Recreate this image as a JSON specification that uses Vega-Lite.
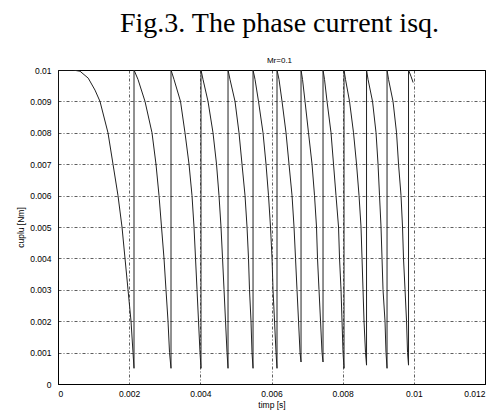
{
  "$schema": "https://vega.github.io/schema/vega-lite/v6.json",
  "autosize": {"type": "none"},
  "width": 427,
  "height": 314,
  "padding": {"left": 58, "top": 70, "right": 19, "bottom": 28},
  "background": "white",
  "title": {
    "text": "Fig.3. The phase current isq.",
    "subtitle": "Mr=0.1",
    "font": "Liberation Serif",
    "fontSize": 28,
    "fontWeight": "normal",
    "color": "#000",
    "dx": 8,
    "anchor": "middle",
    "offset": 1,
    "subtitleFont": "Liberation Sans",
    "subtitleFontSize": 8,
    "subtitleColor": "#000",
    "subtitlePadding": 19
  },
  "config": {
    "view": {"stroke": "#000", "strokeWidth": 1},
    "axis": {
      "labelFont": "Liberation Sans",
      "labelFontSize": 8.5,
      "labelColor": "#000",
      "titleFont": "Liberation Sans",
      "titleFontSize": 8.5,
      "titleFontWeight": "normal",
      "titleColor": "#000",
      "domainColor": "#000",
      "ticks": false,
      "grid": true,
      "gridColor": "#000",
      "gridDash": [3, 2, 1, 2],
      "gridWidth": 0.8,
      "gridOpacity": 0.8
    }
  },
  "data": {
    "values": [
      {"t": 0, "v": 0.0033}, {"t": 0, "v": 0.01}, {"t": 0.00042, "v": 0.01}, {"t": 0.00062, "v": 0.00996}, {"t": 0.00085, "v": 0.00974}, {"t": 0.00104, "v": 0.00936}, {"t": 0.00118, "v": 0.009}, {"t": 0.001405, "v": 0.008}, {"t": 0.001546, "v": 0.007}, {"t": 0.001686, "v": 0.006}, {"t": 0.001799, "v": 0.005}, {"t": 0.001883, "v": 0.004}, {"t": 0.001968, "v": 0.003}, {"t": 0.002052, "v": 0.002}, {"t": 0.002108, "v": 0.001}, {"t": 0.002136, "v": 0.0005},
      {"t": 0.002136, "v": 0.01}, {"t": 0.002248, "v": 0.0097}, {"t": 0.002445, "v": 0.009}, {"t": 0.002642, "v": 0.008}, {"t": 0.002754, "v": 0.007}, {"t": 0.002839, "v": 0.006}, {"t": 0.002909, "v": 0.005}, {"t": 0.002979, "v": 0.004}, {"t": 0.003035, "v": 0.003}, {"t": 0.003092, "v": 0.002}, {"t": 0.003134, "v": 0.001}, {"t": 0.003176, "v": 0.0005},
      {"t": 0.003176, "v": 0.01}, {"t": 0.00326, "v": 0.0097}, {"t": 0.003443, "v": 0.009}, {"t": 0.003569, "v": 0.008}, {"t": 0.003682, "v": 0.007}, {"t": 0.003766, "v": 0.006}, {"t": 0.003822, "v": 0.005}, {"t": 0.003865, "v": 0.004}, {"t": 0.003907, "v": 0.003}, {"t": 0.003949, "v": 0.002}, {"t": 0.003991, "v": 0.001}, {"t": 0.004019, "v": 0.0005},
      {"t": 0.004019, "v": 0.01}, {"t": 0.004075, "v": 0.0097}, {"t": 0.004216, "v": 0.009}, {"t": 0.004356, "v": 0.008}, {"t": 0.004455, "v": 0.007}, {"t": 0.004525, "v": 0.006}, {"t": 0.004581, "v": 0.005}, {"t": 0.004624, "v": 0.004}, {"t": 0.004666, "v": 0.003}, {"t": 0.004708, "v": 0.002}, {"t": 0.00475, "v": 0.001}, {"t": 0.004778, "v": 0.0005},
      {"t": 0.004778, "v": 0.01}, {"t": 0.004834, "v": 0.0097}, {"t": 0.004975, "v": 0.009}, {"t": 0.005087, "v": 0.008}, {"t": 0.005171, "v": 0.007}, {"t": 0.005256, "v": 0.006}, {"t": 0.005312, "v": 0.005}, {"t": 0.005354, "v": 0.004}, {"t": 0.005382, "v": 0.003}, {"t": 0.005424, "v": 0.002}, {"t": 0.005452, "v": 0.001}, {"t": 0.005481, "v": 0.0005},
      {"t": 0.005481, "v": 0.01}, {"t": 0.005537, "v": 0.0097}, {"t": 0.005635, "v": 0.009}, {"t": 0.005762, "v": 0.008}, {"t": 0.005846, "v": 0.007}, {"t": 0.005916, "v": 0.006}, {"t": 0.005972, "v": 0.005}, {"t": 0.006015, "v": 0.004}, {"t": 0.006043, "v": 0.003}, {"t": 0.006085, "v": 0.002}, {"t": 0.006127, "v": 0.001}, {"t": 0.006155, "v": 0.0005},
      {"t": 0.006155, "v": 0.01}, {"t": 0.006211, "v": 0.0097}, {"t": 0.006296, "v": 0.009}, {"t": 0.006408, "v": 0.008}, {"t": 0.006492, "v": 0.007}, {"t": 0.006577, "v": 0.006}, {"t": 0.006633, "v": 0.005}, {"t": 0.006675, "v": 0.004}, {"t": 0.006717, "v": 0.003}, {"t": 0.00676, "v": 0.002}, {"t": 0.006802, "v": 0.001}, {"t": 0.00683, "v": 0.0007},
      {"t": 0.00683, "v": 0.01}, {"t": 0.006872, "v": 0.0097}, {"t": 0.006942, "v": 0.009}, {"t": 0.00704, "v": 0.008}, {"t": 0.007139, "v": 0.007}, {"t": 0.007209, "v": 0.006}, {"t": 0.007265, "v": 0.005}, {"t": 0.007293, "v": 0.004}, {"t": 0.007335, "v": 0.003}, {"t": 0.007378, "v": 0.002}, {"t": 0.00742, "v": 0.001}, {"t": 0.007448, "v": 0.0007},
      {"t": 0.007448, "v": 0.01}, {"t": 0.00749, "v": 0.0097}, {"t": 0.007561, "v": 0.009}, {"t": 0.007673, "v": 0.008}, {"t": 0.007743, "v": 0.007}, {"t": 0.007813, "v": 0.006}, {"t": 0.007884, "v": 0.005}, {"t": 0.007912, "v": 0.004}, {"t": 0.007954, "v": 0.003}, {"t": 0.007982, "v": 0.002}, {"t": 0.00801, "v": 0.001}, {"t": 0.008038, "v": 0.0005},
      {"t": 0.008038, "v": 0.01}, {"t": 0.00808, "v": 0.0097}, {"t": 0.008193, "v": 0.009}, {"t": 0.008305, "v": 0.008}, {"t": 0.00839, "v": 0.007}, {"t": 0.00846, "v": 0.006}, {"t": 0.008516, "v": 0.005}, {"t": 0.008544, "v": 0.004}, {"t": 0.008572, "v": 0.003}, {"t": 0.0086, "v": 0.002}, {"t": 0.008642, "v": 0.001}, {"t": 0.008671, "v": 0.0006},
      {"t": 0.008671, "v": 0.01}, {"t": 0.008713, "v": 0.0097}, {"t": 0.008839, "v": 0.009}, {"t": 0.008938, "v": 0.008}, {"t": 0.008994, "v": 0.007}, {"t": 0.009036, "v": 0.006}, {"t": 0.009078, "v": 0.005}, {"t": 0.009106, "v": 0.004}, {"t": 0.009134, "v": 0.003}, {"t": 0.00919, "v": 0.002}, {"t": 0.009218, "v": 0.001}, {"t": 0.009247, "v": 0.0005},
      {"t": 0.009247, "v": 0.01}, {"t": 0.009289, "v": 0.0097}, {"t": 0.009415, "v": 0.009}, {"t": 0.009514, "v": 0.008}, {"t": 0.00957, "v": 0.007}, {"t": 0.00964, "v": 0.006}, {"t": 0.009682, "v": 0.005}, {"t": 0.00971, "v": 0.004}, {"t": 0.009753, "v": 0.003}, {"t": 0.009795, "v": 0.002}, {"t": 0.009823, "v": 0.001}, {"t": 0.009851, "v": 0.0006},
      {"t": 0.009851, "v": 0.01}, {"t": 0.00992, "v": 0.0098}, {"t": 0.00998, "v": 0.0096}
    ]
  },
  "mark": {"type": "line", "color": "#222", "strokeWidth": 1, "clip": true},
  "encoding": {
    "x": {
      "field": "t",
      "type": "quantitative",
      "scale": {"domain": [0, 0.012], "nice": false, "zero": false},
      "axis": {
        "title": "timp [s]",
        "values": [0, 0.002, 0.004, 0.006, 0.008, 0.01, 0.012],
        "format": "~g",
        "labelPadding": 5,
        "titlePadding": 3
      }
    },
    "y": {
      "field": "v",
      "type": "quantitative",
      "scale": {"domain": [0, 0.01], "nice": false, "zero": false},
      "axis": {
        "title": "cuplu [Nm]",
        "values": [0, 0.001, 0.002, 0.003, 0.004, 0.005, 0.006, 0.007, 0.008, 0.009, 0.01],
        "format": "~g",
        "labelPadding": 7,
        "titlePadding": 4
      }
    },
    "order": {"value": null}
  }
}
